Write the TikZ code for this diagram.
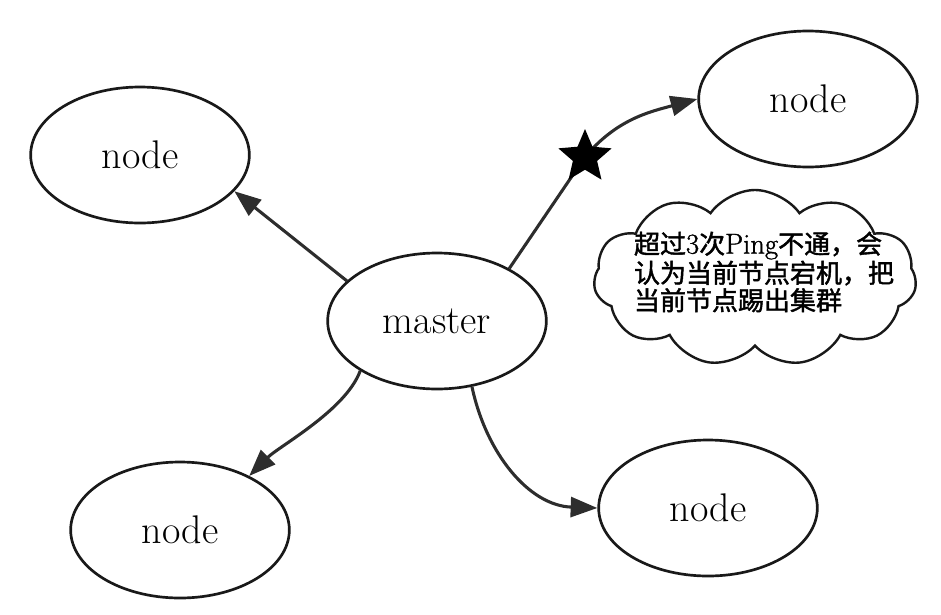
\documentclass[tikz,border=0pt]{standalone}
\usepackage{fontspec}
\newfontfamily\cjk{Noto Sans CJK SC}[FakeBold=1.6]
\newfontfamily\latn{Latin Modern Roman}[FakeBold=1.2]
\usetikzlibrary{shapes.geometric,shapes.symbols,arrows.meta}
\definecolor{lc}{RGB}{45,45,45}
\begin{document}
\begin{tikzpicture}[x=0.75pt,y=-0.75pt,
  ell/.style={ellipse,draw=black!90,line width=2pt,minimum width=164pt,minimum height=102pt,inner sep=0pt,font=\fontsize{30}{32}\selectfont},
  conn/.style={lc,line width=2.3pt,-{Triangle[length=20pt,width=15pt]}},
  note/.style={font=\cjk\fontsize{19.5}{20.6}\selectfont,align=left,inner sep=0pt},
  lat/.style={}]
\useasboundingbox (0,0) rectangle (941,614);
\node[ell] (tl) at (140,155) {node};
\node[ell] (tr) at (808,99) {node};
\node[ell] (m) at (437,321) {master};
\node[ell] (bl) at (180,530) {node};
\node[ell] (br) at (708,508) {node};
\node[cloud,cloud puffs=11,cloud puff arc=110,aspect=2,draw=black!90,line width=1.8pt,minimum width=242pt,minimum height=132pt,inner sep=0pt] (cl) at (755,278) {};
\node[note] (txt) at (764,272) {超过{\latn\fontsize{21.5}{20.6}\selectfont 3}次{\latn\fontsize{21.5}{20.6}\selectfont Ping}不通，会\\认为当前节点宕机，把\\当前节点踢出集群};
\coordinate (sc) at (585,157);
\draw[conn] (m.156) -- (tl.-21);
\draw[conn] (m.36.5) -- (sc) to[out=50,in=195] (tr.west);
\draw[conn] (m.213) to[out=250,in=45,looseness=0.7] (bl.38.6);
\draw[conn] (m.-62) to[out=-78,in=178] (br.west);
\node[star,star points=5,star point ratio=2.2,fill=black,minimum size=42pt,inner sep=0pt] (st) at (sc) {};
\end{tikzpicture}
\end{document}
